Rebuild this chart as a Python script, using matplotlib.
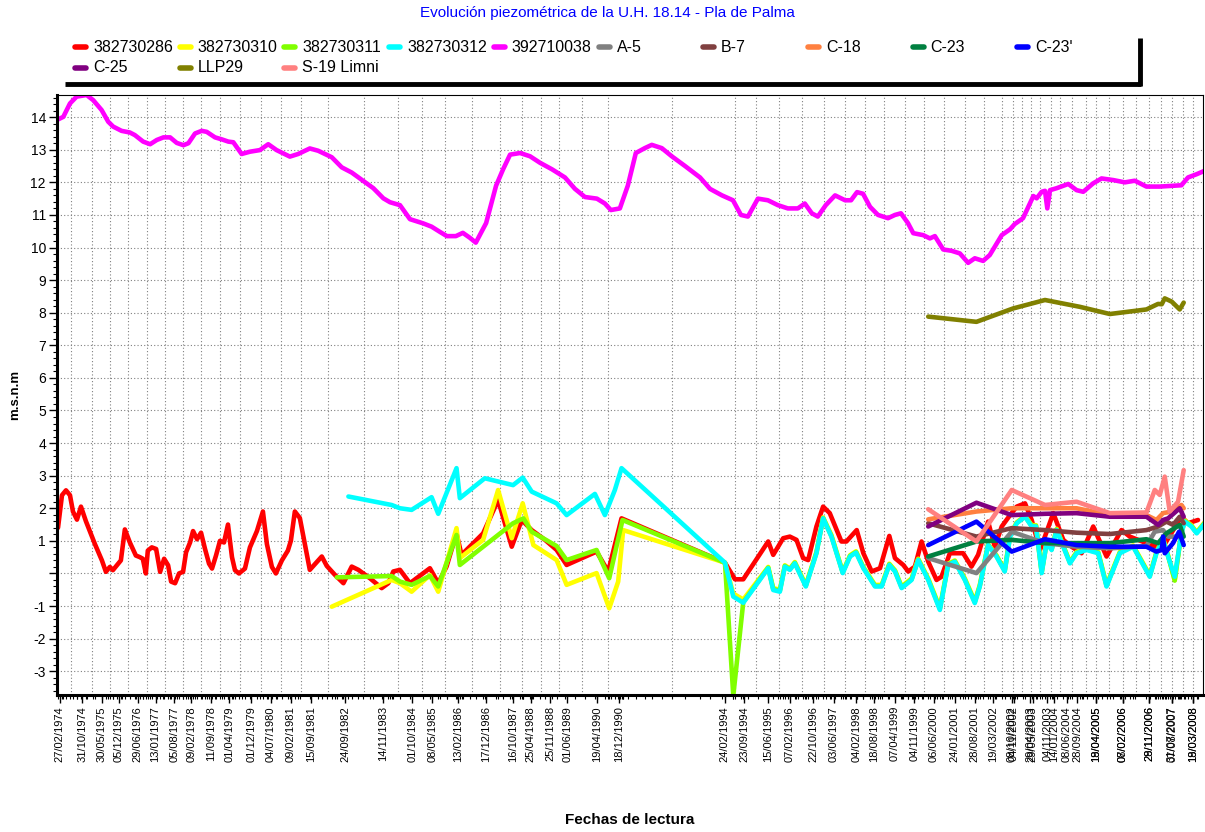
import numpy as np
import pandas as pd
import matplotlib
matplotlib.use("Agg")
import matplotlib.pyplot as plt
from matplotlib.lines import Line2D
from matplotlib.ticker import MultipleLocator

plt.rcParams["font.family"] = ["Liberation Sans", "DejaVu Sans"]

W, H = 1205, 832

# --- datos (fecha en anyo decimal, cota en m.s.n.m) ---
x_286 = [1974.10, 1974.22, 1974.34, 1974.46, 1974.55, 1974.67, 1974.79, 1974.94, 1975.21, 1975.42,
         1975.54, 1975.66, 1975.75, 1975.87, 1975.99, 1976.11, 1976.26, 1976.44, 1976.56, 1976.65,
         1976.74, 1976.80, 1976.92, 1977.05, 1977.17, 1977.29, 1977.41, 1977.50, 1977.62, 1977.74,
         1977.86, 1977.95, 1978.07, 1978.16, 1978.28, 1978.40, 1978.52, 1978.64, 1978.73, 1978.85,
         1978.97, 1979.09, 1979.21, 1979.33, 1979.42, 1979.54, 1979.72, 1979.87, 1980.08, 1980.26,
         1980.38, 1980.53, 1980.65, 1980.83, 1981.01, 1981.10, 1981.22, 1981.37, 1981.67, 1982.03,
         1982.18, 1982.43, 1982.68, 1982.93, 1983.13, 1983.48, 1983.83, 1984.03, 1984.18, 1984.38,
         1984.68, 1985.28, 1985.53, 1985.78, 1986.08, 1986.23, 1986.88, 1987.33, 1987.74, 1988.04,
         1988.34, 1988.74, 1989.09, 1989.39, 1990.29, 1990.64, 1991.04, 1994.15, 1994.45, 1994.70,
         1995.45, 1995.60, 1995.90, 1996.10, 1996.30, 1996.50, 1996.65, 1996.90, 1997.10, 1997.30,
         1997.65, 1997.80, 1998.11, 1998.31, 1998.56, 1998.81, 1999.09, 1999.26, 1999.51, 1999.66,
         1999.86, 2000.06, 2000.26, 2000.51, 2000.66, 2000.91, 2001.31, 2001.56, 2001.76, 2002.06,
         2002.26, 2002.47, 2002.72, 2002.92, 2003.17, 2003.37, 2003.62, 2003.82, 2004.02, 2004.32,
         2004.57, 2004.87, 2005.22, 2005.62, 2006.07, 2006.32, 2006.82, 2007.12, 2007.32, 2007.87,
         2008.07, 2008.37]
y_286 = [1.40, 2.40, 2.55, 2.40, 1.90, 1.65, 2.05, 1.60, 0.90, 0.40,
         0.05, 0.20, 0.10, 0.25, 0.40, 1.35, 0.95, 0.55, 0.50, 0.45,
         0.00, 0.70, 0.80, 0.75, 0.05, 0.45, 0.25, -0.25, -0.30, 0.00,
         0.05, 0.65, 0.95, 1.30, 1.05, 1.25, 0.75, 0.30, 0.15, 0.55,
         1.00, 0.95, 1.50, 0.50, 0.10, 0.00, 0.15, 0.80, 1.30, 1.90,
         0.90, 0.20, 0.00, 0.40, 0.70, 1.00, 1.90, 1.70, 0.11, 0.52,
         0.23, -0.05, -0.30, 0.21, 0.11, -0.15, -0.45, -0.30, 0.06, 0.11,
         -0.30, 0.16, -0.30, 0.21, 1.23, 0.57, 1.23, 2.25, 0.82, 1.64,
         1.33, 1.03, 0.72, 0.26, 0.67, 0.06, 1.69, 0.33, -0.18, -0.18,
         0.98, 0.57, 1.08, 1.13, 1.03, 0.47, 0.41, 1.44, 2.05, 1.85,
         0.98, 0.98, 1.33, 0.62, 0.06, 0.16, 1.15, 0.47, 0.26, 0.06,
         0.21, 0.98, 0.36, -0.20, -0.10, 0.62, 0.62, 0.21, 0.57, 1.59,
         0.82, 1.44, 1.79, 2.05, 2.15, 1.64, 0.72, 1.28, 1.85, 1.03,
         0.82, 0.62, 1.44, 0.52, 1.33, 1.13, 0.93, 0.82, 0.82, 1.74,
         1.54, 1.64]

# fechas comunes de 382730310/311/312 a partir de 1994
x_94_08 = [1994.15, 1994.40, 1994.70, 1995.45, 1995.60, 1995.80, 1995.95, 1996.10, 1996.25, 1996.58,
           1996.90, 1997.10, 1997.35, 1997.69, 1997.91, 1998.09, 1998.31, 1998.66, 1998.86, 1999.09,
           1999.26, 1999.46, 1999.76, 1999.96, 2000.26, 2000.61, 2000.86, 2001.06, 2001.36, 2001.66,
           2001.81, 2002.06, 2002.31, 2002.56, 2002.72, 2002.92, 2003.17, 2003.37, 2003.50, 2003.67,
           2003.82, 2003.97, 2004.12, 2004.52, 2004.72, 2005.02, 2005.37, 2005.62, 2006.02, 2006.42,
           2006.92, 2007.12, 2007.32, 2007.47, 2007.67, 2007.87, 2007.97, 2008.17, 2008.33, 2008.58]

x_310 = [1982.33, 1984.13, 1984.38, 1984.73, 1985.28, 1985.53, 1986.08, 1986.18, 1986.88, 1987.33,
         1987.74, 1988.07, 1988.39, 1989.09, 1989.39, 1990.29, 1990.67, 1990.94, 1991.09] + x_94_08
y_310 = [-1.02, -0.20, -0.30, -0.56, -0.05, -0.56, 1.39, 0.47, 1.03, 2.56,
         1.08, 2.15, 0.87, 0.41, -0.35, 0.01, -1.07, -0.25, 1.33] + \
        [0.33, -0.62, -0.80, 0.20, -0.45, -0.50, 0.25, 0.15, 0.35, -0.35,
         0.66, 1.72, 1.18, 0.05, 0.56, 0.68, 0.20, -0.35, -0.35, 0.30,
         0.10, -0.40, -0.15, 0.45, -0.15, -1.05, 0.30, 0.40, -0.15, -0.85,
         -0.35, 0.90, 0.56, 0.10, 1.17, 1.57, 1.77, 1.48, 1.48, 0.05,
         0.97, 0.76, 1.37, 0.35, 0.66, 0.76, 0.66, -0.35, 0.66, 0.86,
         -0.05, 0.66, 1.07, 0.56, -0.20, 1.27, 1.63, 1.48, 1.27, 1.58]

x_311 = [1982.48, 1984.13, 1984.38, 1984.73, 1985.28, 1985.53, 1986.08, 1986.18, 1987.78, 1988.09,
         1988.34, 1989.09, 1989.39, 1990.29, 1990.67, 1991.07] + x_94_08
y_311 = [-0.12, -0.08, -0.25, -0.35, -0.08, -0.40, 1.18, 0.26, 1.54, 1.69,
         1.28, 0.84, 0.41, 0.72, -0.15, 1.64] + \
        [0.33, -3.75, -0.88, 0.18, -0.48, -0.53, 0.23, 0.13, 0.33, -0.38,
         0.64, 1.70, 1.15, 0.03, 0.54, 0.66, 0.18, -0.38, -0.38, 0.28,
         0.08, -0.42, -0.18, 0.43, -0.18, -1.08, 0.28, 0.38, -0.18, -0.88,
         -0.38, 0.88, 0.54, 0.08, 1.15, 1.55, 1.75, 1.46, 1.46, 0.03,
         0.95, 0.74, 1.35, 0.33, 0.64, 0.74, 0.64, -0.38, 0.64, 0.84,
         -0.08, 0.64, 1.05, 0.54, -0.22, 1.25, 1.61, 1.46, 1.25, 1.56]

x_312 = [1982.83, 1984.13, 1984.38, 1984.73, 1985.33, 1985.53, 1986.08, 1986.18, 1986.93, 1987.78,
         1988.07, 1988.34, 1989.09, 1989.39, 1990.24, 1990.54, 1990.84, 1991.04] + x_94_08
y_312 = [2.36, 2.10, 2.00, 1.95, 2.34, 1.83, 3.23, 2.31, 2.92, 2.71,
         2.94, 2.51, 2.15, 1.79, 2.44, 1.79, 2.56, 3.23] + \
        [0.33, -0.71, -0.90, 0.16, -0.51, -0.56, 0.21, 0.11, 0.31, -0.40,
         0.62, 1.69, 1.13, 0.01, 0.52, 0.64, 0.16, -0.40, -0.40, 0.26,
         0.06, -0.45, -0.20, 0.41, -0.20, -1.12, 0.26, 0.36, -0.20, -0.91,
         -0.40, 0.87, 0.52, 0.06, 1.13, 1.54, 1.74, 1.44, 1.44, 0.01,
         0.93, 0.72, 1.33, 0.31, 0.62, 0.72, 0.62, -0.40, 0.62, 0.82,
         -0.10, 0.62, 1.03, 0.52, -0.10, 1.23, 1.59, 1.44, 1.23, 1.54]

x_038 = [1974.06, 1974.26, 1974.46, 1974.66, 1974.96, 1975.16, 1975.41, 1975.61, 1975.76, 1976.01,
         1976.26, 1976.41, 1976.66, 1976.87, 1977.07, 1977.27, 1977.47, 1977.67, 1977.87, 1978.02,
         1978.22, 1978.42, 1978.57, 1978.82, 1979.02, 1979.22, 1979.37, 1979.62, 1979.87, 1980.17,
         1980.42, 1980.67, 1981.07, 1981.32, 1981.67, 1981.92, 1982.33, 1982.63, 1982.93, 1983.28,
         1983.58, 1983.88, 1984.08, 1984.38, 1984.68, 1985.08, 1985.33, 1985.58, 1985.79, 1986.06,
         1986.27, 1986.48, 1986.66, 1986.97, 1987.27, 1987.48, 1987.69, 1987.99, 1988.29, 1988.59,
         1988.95, 1989.34, 1989.64, 1989.94, 1990.30, 1990.54, 1990.72, 1990.99, 1991.23, 1991.47,
         1991.74, 1991.95, 1992.25, 1992.55, 1992.95, 1993.40, 1993.70, 1994.06, 1994.39, 1994.63,
         1994.84, 1995.14, 1995.44, 1995.74, 1996.04, 1996.34, 1996.55, 1996.76, 1996.94, 1997.18,
         1997.46, 1997.76, 1997.94, 1998.12, 1998.30, 1998.51, 1998.75, 1999.05, 1999.26, 1999.44,
         1999.65, 1999.81, 2000.11, 2000.31, 2000.46, 2000.71, 2000.96, 2001.21, 2001.46, 2001.66,
         2001.91, 2002.11, 2002.47, 2002.72, 2002.86, 2003.11, 2003.42, 2003.52, 2003.67, 2003.77,
         2003.84, 2003.92, 2004.12, 2004.47, 2004.72, 2004.92, 2005.22, 2005.47, 2005.82, 2006.17,
         2006.47, 2006.82, 2007.22, 2007.52, 2007.87, 2008.07, 2008.33, 2008.58]
y_038 = [13.91, 14.01, 14.42, 14.63, 14.68, 14.52, 14.22, 13.86, 13.71, 13.58,
         13.53, 13.45, 13.25, 13.17, 13.30, 13.38, 13.38, 13.21, 13.14, 13.20,
         13.50, 13.58, 13.55, 13.38, 13.32, 13.25, 13.23, 12.87, 12.94, 12.99,
         13.17, 12.99, 12.79, 12.87, 13.04, 12.97, 12.77, 12.46, 12.30, 12.04,
         11.82, 11.51, 11.39, 11.30, 10.87, 10.74, 10.64, 10.48, 10.35, 10.35,
         10.45, 10.30, 10.15, 10.75, 11.90, 12.40, 12.85, 12.90, 12.80, 12.60,
         12.40, 12.15, 11.80, 11.55, 11.50, 11.35, 11.15, 11.20, 11.90, 12.90,
         13.05, 13.15, 13.05, 12.80, 12.50, 12.15, 11.80, 11.60, 11.45, 11.00,
         10.95, 11.50, 11.45, 11.30, 11.20, 11.20, 11.35, 11.05, 10.95, 11.30,
         11.60, 11.45, 11.45, 11.70, 11.65, 11.25, 11.00, 10.90, 11.00, 11.05,
         10.75, 10.44, 10.38, 10.28, 10.35, 9.94, 9.90, 9.82, 9.53, 9.67,
         9.59, 9.77, 10.38, 10.56, 10.72, 10.90, 11.58, 11.51, 11.71, 11.74,
         11.20, 11.76, 11.82, 11.95, 11.76, 11.71, 11.97, 12.12, 12.07, 12.00,
         12.05, 11.87, 11.87, 11.89, 11.91, 12.15, 12.25, 12.36]

x_a5 = [2000.26, 2001.71, 2002.77, 2003.77, 2004.72, 2005.72, 2006.82, 2007.07, 2007.32, 2007.47, 2007.82]
y_a5 = [0.47, 0.01, 1.28, 0.93, 0.82, 0.77, 0.84, 1.28, 1.33, 1.13, 1.13]

x_b7 = [2000.26, 2001.71, 2002.77, 2003.77, 2004.72, 2005.72, 2006.82, 2007.17, 2007.42, 2007.62, 2007.82, 2007.94]
y_b7 = [1.54, 1.13, 1.39, 1.33, 1.25, 1.21, 1.33, 1.44, 1.59, 1.49, 1.74, 1.54]

x_c18 = [2000.26, 2001.71, 2002.77, 2004.72, 2005.72, 2006.82, 2007.12, 2007.32, 2007.58, 2007.87, 2007.94]
y_c18 = [1.66, 1.90, 2.00, 2.00, 1.79, 1.79, 1.64, 1.85, 1.90, 2.10, 2.00]

x_c23 = [2000.26, 2001.71, 2002.77, 2003.77, 2004.72, 2005.72, 2006.82, 2007.17, 2007.42, 2007.82, 2007.94]
y_c23 = [0.52, 0.98, 1.03, 0.93, 0.93, 0.93, 1.05, 0.93, 1.23, 1.49, 1.13]

x_c23b = [2000.26, 2001.71, 2002.77, 2003.77, 2004.72, 2005.72, 2006.82, 2007.12, 2007.28, 2007.32,
          2007.37, 2007.62, 2007.80, 2007.94]
y_c23b = [0.87, 1.59, 0.67, 1.05, 0.87, 0.82, 0.82, 0.67, 0.72, 1.13,
          0.62, 0.93, 1.28, 0.87]

x_c25 = [2000.26, 2001.71, 2002.77, 2003.77, 2004.72, 2005.72, 2006.82, 2007.17, 2007.32, 2007.47, 2007.82, 2007.94]
y_c25 = [1.44, 2.17, 1.79, 1.83, 1.85, 1.74, 1.74, 1.49, 1.64, 1.69, 2.00, 1.74]

x_llp29 = [2000.26, 2001.71, 2002.81, 2003.77, 2004.82, 2005.72, 2006.82, 2007.17, 2007.28, 2007.37,
           2007.58, 2007.82, 2007.94]
y_llp29 = [7.88, 7.72, 8.13, 8.39, 8.18, 7.96, 8.10, 8.27, 8.26, 8.44,
           8.34, 8.10, 8.31]

x_s19 = [2000.26, 2001.71, 2002.77, 2003.77, 2004.72, 2005.72, 2006.82, 2007.07, 2007.22, 2007.37,
         2007.52, 2007.77, 2007.94]
y_s19 = [1.97, 0.98, 2.56, 2.10, 2.20, 1.85, 1.87, 2.56, 2.41, 2.97,
         1.90, 2.20, 3.17]

fechas_eje = ["27/02/1974", "31/10/1974", "30/05/1975", "05/12/1975", "29/06/1976", "13/01/1977",
              "05/08/1977", "09/02/1978", "11/09/1978", "01/04/1979", "01/12/1979", "04/07/1980",
              "09/02/1981", "15/09/1981", "24/09/1982", "14/11/1983", "01/10/1984", "08/05/1985",
              "13/02/1986", "17/12/1986", "16/10/1987", "25/04/1988", "25/11/1988", "01/06/1989",
              "19/04/1990", "18/12/1990", "24/02/1994", "23/09/1994", "15/06/1995", "07/02/1996",
              "22/10/1996", "03/06/1997", "04/02/1998", "18/08/1998", "07/04/1999", "04/11/1999",
              "06/06/2000", "24/01/2001", "28/08/2001", "19/03/2002", "08/10/2002", "04/11/2002",
              "29/04/2003", "29/05/2003", "04/11/2003", "14/01/2004", "08/06/2004", "28/09/2004",
              "18/04/2005", "19/04/2005", "07/02/2006", "08/02/2006", "28/11/2006", "29/11/2006",
              "31/07/2007", "07/08/2007", "18/03/2008", "19/03/2008"]

series = [
    ("382730286", "#ff0000", x_286, y_286),
    ("382730310", "#ffff00", x_310, y_310),
    ("382730311", "#80ff00", x_311, y_311),
    ("382730312", "#00ffff", x_312, y_312),
    ("392710038", "#ff00ff", x_038, y_038),
    ("A-5", "#808080", x_a5, y_a5),
    ("B-7", "#804040", x_b7, y_b7),
    ("C-18", "#ff8040", x_c18, y_c18),
    ("C-23", "#008040", x_c23, y_c23),
    ("C-23'", "#0000ff", x_c23b, y_c23b),
    ("C-25", "#800080", x_c25, y_c25),
    ("LLP29", "#808000", x_llp29, y_llp29),
    ("S-19 Limni", "#ff8080", x_s19, y_s19),
]


def px(x):
    return x / W


def py(y):
    return 1 - y / H


fig = plt.figure(figsize=(W / 100, H / 100), dpi=100)
ax = fig.add_axes([px(57), py(695), (1203 - 57) / W, (695 - 95) / H])

for nombre, color, xs, ys in series:
    ax.plot(xs, ys, color=color, lw=3.3, solid_joinstyle="round", solid_capstyle="round")

ax.set_xlim(1974.07, 2008.52)
ax.set_ylim(-3.73, 14.68)

# eje x: fechas de lectura (las rejillas verticales caen entre fechas)
fe = pd.to_datetime(fechas_eje, format="%d/%m/%Y")
pos = np.array(fe.year + (fe.dayofyear - 1) / 365.25)
ax.set_xticks(pos)
ax.set_xticklabels(fechas_eje, rotation=90, fontsize=8)
todas = np.unique(np.concatenate([np.asarray(s[2]) for s in series]))
ax.set_xticks(todas[(todas > 1974.07) & (todas < 2008.52)], minor=True)
for m in (pos[:-1] + pos[1:]) / 2:
    ax.axvline(m, color="0.5", ls=(0, (1, 2)), lw=0.8, zorder=0)

# eje y
yt = np.arange(-3, 15)
ax.set_yticks(yt)
ax.set_yticklabels(["" if v == 0 else str(v) for v in yt], fontsize=10)
ax.yaxis.set_minor_locator(MultipleLocator(0.2))
ax.grid(axis="y", color="0.5", ls=(0, (1, 2)), lw=0.8)
ax.set_axisbelow(True)

ax.tick_params(which="major", direction="out", length=6, width=1, pad=2)
ax.tick_params(which="minor", direction="out", length=3, width=0.8)
for lado in ["left", "bottom"]:
    ax.spines[lado].set_linewidth(2.2)
for lado in ["top", "right"]:
    ax.spines[lado].set_linewidth(0.8)

# textos
fig.text(px(607), py(13), "Evolución piezométrica de la U.H. 18.14 - Pla de Palma",
         color="#0000ff", fontsize=11, ha="center", va="center")
fig.text(px(630), py(820), "Fechas de lectura", fontsize=11, fontweight="bold",
         ha="center", va="center")
fig.text(px(15), py(395), "m.s.n.m", fontsize=9.5, fontweight="bold", rotation=90,
         ha="center", va="center")

# leyenda (10 columnas de ancho fijo)
for i, (nombre, color, xs, ys) in enumerate(series):
    fila, col = divmod(i, 10)
    x0 = 75 + col * 104.7
    y0 = 47 + fila * 21
    fig.add_artist(Line2D([px(x0), px(x0 + 11)], [py(y0), py(y0)], color=color, lw=4,
                          solid_capstyle="round", transform=fig.transFigure))
    fig.text(px(x0 + 18), py(y0), nombre, fontsize=11.5, ha="left", va="center")

fig.add_artist(Line2D([px(65), px(1141)], [py(84), py(84)], color="black", lw=3.5,
                      solid_capstyle="butt", transform=fig.transFigure))
fig.add_artist(Line2D([px(1140), px(1140)], [py(38), py(86)], color="black", lw=3.5,
                      solid_capstyle="butt", transform=fig.transFigure))

fig.savefig("out.png", dpi=100)
